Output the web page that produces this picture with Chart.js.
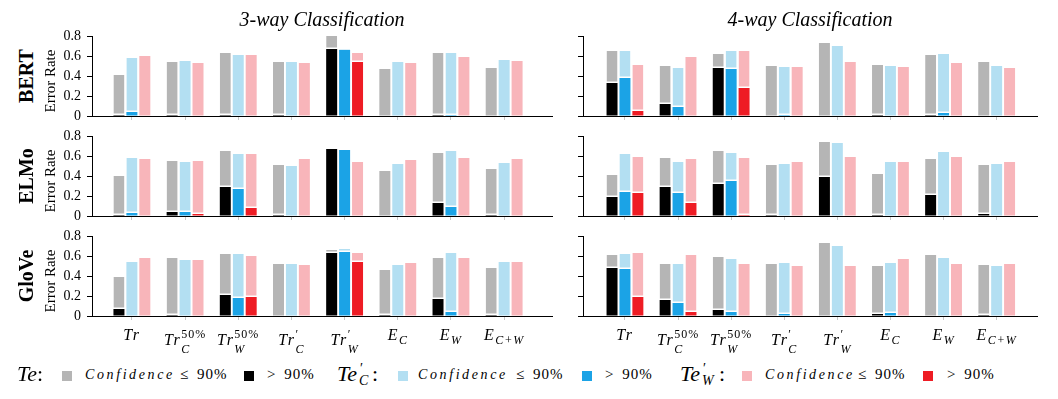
<!DOCTYPE html>
<html>
<head>
<meta charset="utf-8">
<script src="https://cdn.jsdelivr.net/npm/chart.js@4"></script>
<style>
  body { margin: 0; background: #fff; }
  #page { position: relative; width: 1058px; height: 399px; overflow: hidden; background: #fff; }
  #page canvas { position: absolute; }
  .t { position: absolute; white-space: nowrap; line-height: 1; font-family: 'Liberation Serif', serif; color: #000; }
  .sq { position: absolute; width: 10px; height: 10px; }
</style>
</head>
<body>
<div id="page"></div>
<script>
// x categories: base text, subscript, superscript
var catBase = ['Tr', 'Tr', 'Tr', 'Tr', 'Tr', 'E', 'E', 'E'];
var catSub  = ['', 'C', 'W', 'C', 'W', 'C', 'W', 'C+W'];
var catSup  = ['', '50%', '50%', '\u2032', '\u2032', '', '', ''];

var yTicks = [0, 0.2, 0.4, 0.6, 0.8];

// error rate (total) and the part with confidence > 90%, per test set
// BERT, 3-way
var bert3Te    = [0.41, 0.54, 0.63, 0.54, 0.80, 0.47, 0.63, 0.48];
var bert3TeHi  = [0.01, 0.01, 0.01, 0.01, 0.67, 0.00, 0.01, 0.00];
var bert3TeC   = [0.58, 0.55, 0.61, 0.54, 0.67, 0.54, 0.63, 0.56];
var bert3TeCHi = [0.04, 0.00, 0.00, 0.00, 0.66, 0.00, 0.01, 0.00];
var bert3TeW   = [0.60, 0.53, 0.61, 0.53, 0.63, 0.53, 0.59, 0.55];
var bert3TeWHi = [0.00, 0.00, 0.00, 0.00, 0.54, 0.00, 0.00, 0.00];
// BERT, 4-way
var bert4Te    = [0.65, 0.50, 0.62, 0.50, 0.73, 0.51, 0.61, 0.54];
var bert4TeHi  = [0.33, 0.12, 0.48, 0.00, 0.00, 0.01, 0.01, 0.00];
var bert4TeC   = [0.65, 0.48, 0.65, 0.49, 0.70, 0.50, 0.62, 0.50];
var bert4TeCHi = [0.38, 0.09, 0.47, 0.01, 0.00, 0.00, 0.03, 0.00];
var bert4TeW   = [0.51, 0.59, 0.65, 0.49, 0.54, 0.49, 0.53, 0.48];
var bert4TeWHi = [0.05, 0.00, 0.28, 0.00, 0.00, 0.00, 0.00, 0.00];
// ELMo, 3-way
var elmo3Te    = [0.40, 0.55, 0.65, 0.51, 0.67, 0.45, 0.63, 0.47];
var elmo3TeHi  = [0.01, 0.04, 0.29, 0.01, 0.67, 0.00, 0.13, 0.01];
var elmo3TeC   = [0.58, 0.54, 0.62, 0.50, 0.66, 0.52, 0.65, 0.53];
var elmo3TeCHi = [0.03, 0.04, 0.27, 0.00, 0.66, 0.00, 0.09, 0.00];
var elmo3TeW   = [0.57, 0.55, 0.62, 0.57, 0.54, 0.56, 0.58, 0.57];
var elmo3TeWHi = [0.00, 0.02, 0.08, 0.00, 0.00, 0.00, 0.00, 0.00];
// ELMo, 4-way
var elmo4Te    = [0.41, 0.58, 0.65, 0.51, 0.74, 0.42, 0.57, 0.51];
var elmo4TeHi  = [0.19, 0.29, 0.32, 0.01, 0.39, 0.01, 0.21, 0.02];
var elmo4TeC   = [0.62, 0.54, 0.63, 0.52, 0.73, 0.54, 0.64, 0.52];
var elmo4TeCHi = [0.24, 0.23, 0.35, 0.00, 0.00, 0.00, 0.00, 0.00];
var elmo4TeW   = [0.59, 0.57, 0.58, 0.54, 0.59, 0.54, 0.59, 0.54];
var elmo4TeWHi = [0.23, 0.13, 0.01, 0.00, 0.00, 0.00, 0.00, 0.00];
// GloVe, 3-way
var glove3Te    = [0.39, 0.58, 0.62, 0.52, 0.66, 0.46, 0.58, 0.48];
var glove3TeHi  = [0.07, 0.01, 0.21, 0.00, 0.63, 0.01, 0.17, 0.01];
var glove3TeC   = [0.54, 0.56, 0.62, 0.52, 0.67, 0.51, 0.63, 0.54];
var glove3TeCHi = [0.00, 0.00, 0.18, 0.00, 0.64, 0.00, 0.04, 0.00];
var glove3TeW   = [0.58, 0.56, 0.60, 0.51, 0.63, 0.53, 0.58, 0.54];
var glove3TeWHi = [0.00, 0.00, 0.19, 0.00, 0.54, 0.00, 0.00, 0.00];
// GloVe, 4-way
var glove4Te    = [0.61, 0.52, 0.59, 0.52, 0.73, 0.50, 0.61, 0.51];
var glove4TeHi  = [0.48, 0.16, 0.06, 0.00, 0.00, 0.02, 0.00, 0.01];
var glove4TeC   = [0.62, 0.52, 0.57, 0.53, 0.70, 0.53, 0.58, 0.50];
var glove4TeCHi = [0.47, 0.13, 0.04, 0.02, 0.00, 0.03, 0.00, 0.00];
var glove4TeW   = [0.63, 0.61, 0.52, 0.50, 0.50, 0.57, 0.52, 0.52];
var glove4TeWHi = [0.19, 0.04, 0.00, 0.00, 0.00, 0.00, 0.00, 0.00];

var lightColors = ['#b5b5b5', '#b3dff2', '#f8b5ba'];
var darkColors  = ['#000000', '#1ba3e6', '#ee1c24'];

var page = document.getElementById('page');
var SERIF = "'Liberation Serif', serif";
var PAD = 18; // room above/below the plot box for the y tick labels

// draws the math style x labels (Tr, Tr_C^50%, ...) under the bottom row
var mathLabels = {
    id: 'mathLabels',
    afterDraw: function (chart) {
        var ctx = chart.ctx;
        var bottom = chart.chartArea.bottom;
        var xs = chart.scales.x;
        ctx.save();
        ctx.fillStyle = '#000';
        ctx.textBaseline = 'alphabetic';
        ctx.textAlign = 'left';
        for (var i = 0; i < catBase.length; i++) {
            var x = xs.getPixelForValue(i);
            var hasSup = catSup[i] !== '';
            ctx.letterSpacing = '1.5px';
            ctx.font = 'italic 16px ' + SERIF;
            var wb = ctx.measureText(catBase[i]).width;
            ctx.letterSpacing = '1px';
            ctx.font = 'italic 12px ' + SERIF;
            var ws = ctx.measureText(catSub[i]).width;
            ctx.font = '12px ' + SERIF;
            var wp = ctx.measureText(catSup[i]).width;
            var x0 = x - (wb + Math.max(ws, wp)) / 2;
            var baseY = bottom + (hasSup ? 29 : 24);

            ctx.letterSpacing = '1.5px';
            ctx.font = 'italic 16px ' + SERIF;
            ctx.fillText(catBase[i], x0, baseY);
            ctx.letterSpacing = '1px';
            if (hasSup) {
                ctx.font = '12px ' + SERIF;
                ctx.fillText(catSup[i], x0 + wb, baseY - 7);
            }
            if (catSub[i]) {
                ctx.font = 'italic 12px ' + SERIF;
                ctx.fillText(catSub[i], x0 + wb, baseY + (hasSup ? 8 : 4));
            }
        }
        ctx.restore();
    }
};

/**
 * one panel = one chart. areaLeft/areaTop/areaWidth give the plot box in page pixels.
 */
function makePanel(areaLeft, areaTop, areaWidth, xMin, xMax, series, withYLabels, withXLabels) {
    var xh = withXLabels ? 40 : 6;
    var padBottom = Math.max(0, PAD - xh);
    var canvas = document.createElement('canvas');
    var w = 40 + areaWidth + 4;
    var h = PAD + 80 + xh + padBottom;
    canvas.width = w;
    canvas.height = h;
    canvas.style.left = (areaLeft - 40) + 'px';
    canvas.style.top = (areaTop - PAD) + 'px';
    canvas.style.width = w + 'px';
    canvas.style.height = h + 'px';
    page.appendChild(canvas);

    var datasets = [];
    series.forEach(function (s, k) {
        var tot = s[0], hi = s[1];
        datasets.push({
            data: hi,
            backgroundColor: darkColors[k],
            stack: 's' + k
        });
        datasets.push({
            data: tot.map(function (v, i) { return Math.max(0, +(v - hi[i]).toFixed(3)); }),
            backgroundColor: lightColors[k],
            borderColor: '#ffffff',
            borderSkipped: false,
            borderWidth: function (c) { return hi[c.dataIndex] > 0 ? { top: 0, left: 0, right: 0, bottom: 1.5 } : 0; },
            stack: 's' + k
        });
    });

    return new Chart(canvas, {
        type: 'bar',
        data: {
            labels: catBase.map(function (_, i) { return i; }),
            datasets: datasets
        },
        options: {
            responsive: false,
            animation: false,
            devicePixelRatio: 1,
            barPercentage: 0.85,
            categoryPercentage: 0.73,
            layout: { padding: { top: PAD, right: 4, bottom: padBottom, left: 0 } },
            plugins: { legend: { display: false }, tooltip: { enabled: false } },
            scales: {
                x: {
                    type: 'linear',
                    offset: false,
                    min: xMin,
                    max: xMax,
                    afterFit: function (sc) { sc.height = xh; },
                    ticks: { display: false, stepSize: 1, includeBounds: false },
                    grid: { offset: false, drawOnChartArea: false, drawTicks: true, tickLength: 4, color: '#c8c8c8' },
                    border: { display: true, color: '#000', width: 1 }
                },
                y: {
                    stacked: true,
                    min: 0,
                    max: 0.8,
                    afterFit: function (sc) { sc.width = 40; },
                    afterBuildTicks: function (sc) { sc.ticks = yTicks.map(function (v) { return { value: v }; }); },
                    ticks: {
                        display: withYLabels,
                        autoSkip: false,
                        padding: 6,
                        color: '#000',
                        font: { family: SERIF, size: 14 },
                        callback: function (v) { return v === 0 ? '0' : v.toFixed(1); }
                    },
                    grid: { drawOnChartArea: false, drawTicks: true, tickLength: 5, color: '#000' },
                    border: { display: true, color: '#000', width: 1 }
                }
            }
        },
        plugins: withXLabels ? [mathLabels] : []
    });
}

var LEFT = { x: 92, w: 460, min: -0.75, max: 7.9 };
var RIGHT = { x: 583, w: 454, min: -0.79, max: 7.76 };
var rowTops = [36, 136, 236];

makePanel(LEFT.x, rowTops[0], LEFT.w, LEFT.min, LEFT.max,
    [[bert3Te, bert3TeHi], [bert3TeC, bert3TeCHi], [bert3TeW, bert3TeWHi]], true, false);
makePanel(RIGHT.x, rowTops[0], RIGHT.w, RIGHT.min, RIGHT.max,
    [[bert4Te, bert4TeHi], [bert4TeC, bert4TeCHi], [bert4TeW, bert4TeWHi]], false, false);
makePanel(LEFT.x, rowTops[1], LEFT.w, LEFT.min, LEFT.max,
    [[elmo3Te, elmo3TeHi], [elmo3TeC, elmo3TeCHi], [elmo3TeW, elmo3TeWHi]], true, false);
makePanel(RIGHT.x, rowTops[1], RIGHT.w, RIGHT.min, RIGHT.max,
    [[elmo4Te, elmo4TeHi], [elmo4TeC, elmo4TeCHi], [elmo4TeW, elmo4TeWHi]], false, false);
makePanel(LEFT.x, rowTops[2], LEFT.w, LEFT.min, LEFT.max,
    [[glove3Te, glove3TeHi], [glove3TeC, glove3TeCHi], [glove3TeW, glove3TeWHi]], true, true);
makePanel(RIGHT.x, rowTops[2], RIGHT.w, RIGHT.min, RIGHT.max,
    [[glove4Te, glove4TeHi], [glove4TeC, glove4TeCHi], [glove4TeW, glove4TeWHi]], false, true);

// ---- text (titles, row labels, legend) ----
function addText(html, x, baseline, size, style) {
    var d = document.createElement('div');
    d.className = 't';
    d.innerHTML = html;
    d.style.fontSize = size + 'px';
    d.style.left = x + 'px';
    d.style.top = (baseline - 0.8375 * size) + 'px';
    if (style) d.style.cssText += style;
    page.appendChild(d);
    return d;
}
function addSquare(x, color) {
    var s = document.createElement('div');
    s.className = 'sq';
    s.style.left = x + 'px';
    s.style.top = '371px';
    s.style.background = color;
    page.appendChild(s);
}

addText('3-way Classification', 322, 26, 20, 'font-style:italic;transform:translateX(-50%);');
addText('4-way Classification', 810, 26, 20, 'font-style:italic;transform:translateX(-50%);');

var rowNames = ['BERT', 'ELMo', 'GloVe'];
rowNames.forEach(function (name, r) {
    var mid = rowTops[r] + 40;
    var a = addText(name, 0, 0, 20, 'font-weight:bold;');
    a.style.left = '26px';
    a.style.top = mid + 'px';
    a.style.transform = 'translate(-50%,-50%) rotate(-90deg)';
    var b = addText('Error Rate', 0, 0, 15, '');
    b.style.left = '50px';
    b.style.top = (mid + 5) + 'px';
    b.style.transform = 'translate(-50%,-50%) rotate(-90deg)';
});

// legend
var conf = 'font-style:italic;letter-spacing:2.6px;';
var pct = 'letter-spacing:1px;word-spacing:3px;';
addText('<i>Te</i>:', 17, 381, 22, '');
addSquare(62, lightColors[0]);
addText('Confidence', 85, 380, 14, conf);
addText('\u2264 90%', 180, 380, 15, pct);
addSquare(244, darkColors[0]);
addText('&gt; 90%', 267, 380, 15, pct);

addText('<i>Te</i>', 337, 381, 22, '');
addText('\u2032', 360, 374, 14, '');
addText('<i>C</i>', 359, 386, 14, '');
addText(':', 372, 381, 22, '');
addSquare(398, lightColors[1]);
addText('Confidence', 418, 380, 14, conf);
addText('\u2264 90%', 516, 380, 15, pct);
addSquare(582, darkColors[1]);
addText('&gt; 90%', 605, 380, 15, pct);

addText('<i>Te</i>', 680, 381, 22, '');
addText('\u2032', 703, 374, 14, '');
addText('<i>W</i>', 702, 386, 14, '');
addText(':', 719, 381, 22, '');
addSquare(742, lightColors[2]);
addText('Confidence', 765, 380, 14, conf);
addText('\u2264 90%', 858, 380, 15, pct);
addSquare(923, darkColors[2]);
addText('&gt; 90%', 947, 380, 15, pct);
</script>
</body>
</html>
